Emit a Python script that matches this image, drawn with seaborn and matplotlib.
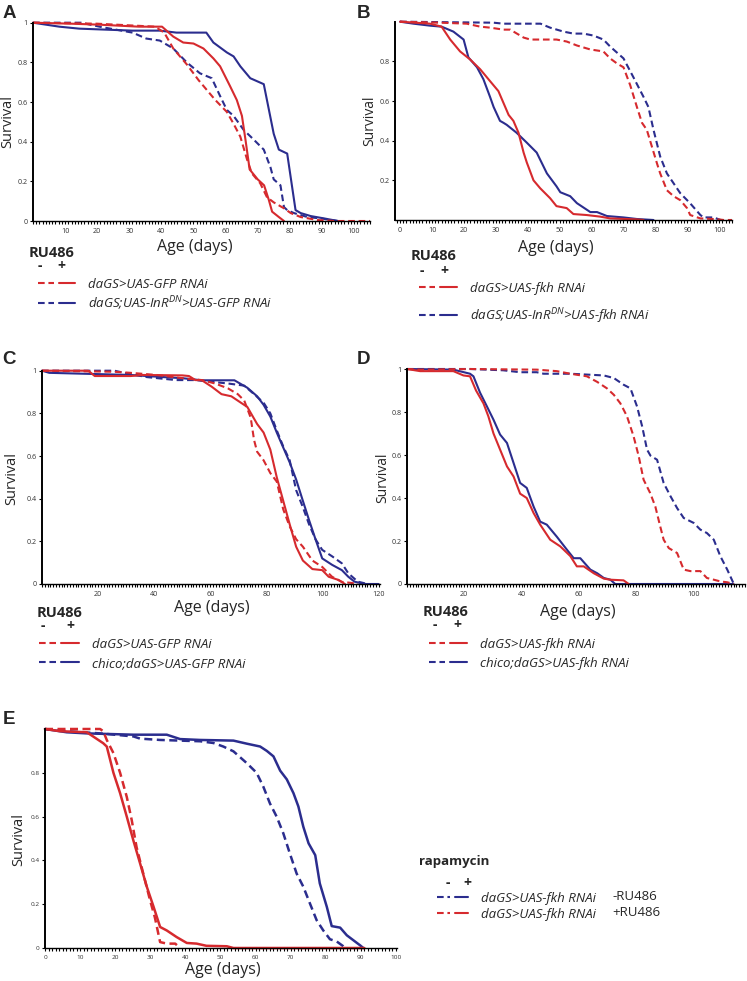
import matplotlib
matplotlib.use("Agg")
import matplotlib.pyplot as plt
import seaborn as sns
import numpy as np
from matplotlib.lines import Line2D
from matplotlib.legend_handler import HandlerTuple
from matplotlib.ticker import MultipleLocator

# ---------------- data (age in days, fraction surviving) ----------------
# Panel A
A_gfp_minus_day = [0, 20, 38, 40.9, 43.7, 47.9, 51.6, 56.8, 60.4, 62.5, 64.6, 66.7, 68.2, 70.8, 72.9, 75, 78.2, 80.3, 83.4, 88.6, 93.8, 105]
A_gfp_minus_surv = [1, 0.995, 0.98, 0.95, 0.87, 0.79, 0.71, 0.61, 0.55, 0.49, 0.425, 0.31, 0.24, 0.19, 0.12, 0.094, 0.064, 0.04, 0.02, 0.005, 0, 0]
A_gfp_plus_day = [0, 12, 20.7, 33, 40.2, 43.7, 46.8, 50, 53.1, 56.2, 58.3, 61.4, 63.5, 65.1, 66.2, 67.5, 70, 72, 73.5, 74.5, 76.6, 78.2]
A_gfp_plus_surv = [1, 0.995, 0.99, 0.98, 0.98, 0.93, 0.90, 0.895, 0.87, 0.82, 0.78, 0.68, 0.61, 0.53, 0.41, 0.26, 0.21, 0.18, 0.105, 0.047, 0.02, 0]
A_inr_minus_day = [0, 15, 20.7, 31, 35.3, 39.5, 43.7, 47.9, 52, 55.7, 58.3, 60.4, 62.5, 65.6, 68.8, 71.9, 74, 75, 77.1, 78.2, 79.2, 81.3, 85.5, 89.6, 92.8, 95]
A_inr_minus_surv = [1, 1, 0.98, 0.95, 0.92, 0.91, 0.87, 0.80, 0.745, 0.72, 0.63, 0.56, 0.53, 0.46, 0.41, 0.36, 0.27, 0.21, 0.18, 0.07, 0.055, 0.04, 0.02, 0.013, 0.005, 0]
A_inr_plus_day = [0, 8.2, 14.4, 31, 39.5, 44.7, 54, 56.2, 60.4, 62.5, 64.6, 67.7, 71.9, 75, 76.6, 79.2, 81.8, 83.4, 86.5, 90.7, 95]
A_inr_plus_surv = [1, 0.98, 0.97, 0.96, 0.96, 0.95, 0.95, 0.90, 0.85, 0.83, 0.78, 0.72, 0.69, 0.44, 0.36, 0.34, 0.055, 0.04, 0.025, 0.013, 0]

# Panel B
B_fkh_minus_day = [0, 12.8, 20.9, 25.1, 28.2, 32.4, 34.5, 38.7, 40.8, 49, 52.2, 55.4, 59.6, 63.7, 65.8, 67.9, 70, 72.1, 74.2, 75.8, 77.3, 78.9, 80.5, 81.5, 83.6, 85.7, 87.8, 89.9, 90.9, 94.1, 99.3, 101.4, 104]
B_fkh_minus_surv = [1, 0.995, 0.99, 0.975, 0.97, 0.96, 0.96, 0.92, 0.91, 0.91, 0.90, 0.88, 0.86, 0.85, 0.815, 0.79, 0.77, 0.68, 0.57, 0.49, 0.455, 0.37, 0.285, 0.235, 0.15, 0.12, 0.10, 0.06, 0.025, 0.008, 0.004, 0, 0]
B_fkh_plus_day = [0, 9.4, 13, 15.7, 18.8, 21.9, 25.1, 28.2, 30.8, 32.4, 34, 35.5, 37.1, 38.7, 39.7, 41.8, 43.9, 47, 49, 52.2, 54.3, 58.5, 62.7, 65.8, 74, 76.3]
B_fkh_plus_surv = [1, 0.99, 0.975, 0.91, 0.85, 0.81, 0.76, 0.70, 0.65, 0.59, 0.53, 0.50, 0.44, 0.34, 0.29, 0.20, 0.16, 0.11, 0.07, 0.06, 0.03, 0.025, 0.017, 0.008, 0.003, 0]
B_inr_minus_day = [0, 29.3, 32.4, 44, 47, 51.2, 54.3, 57.5, 60.6, 63.7, 65.8, 70, 73.1, 76.3, 77.8, 79.4, 81.5, 83.6, 85.7, 87.8, 90.9, 94.1, 95.1, 98.3, 100.4]
B_inr_minus_surv = [1, 0.995, 0.99, 0.99, 0.97, 0.95, 0.94, 0.94, 0.93, 0.91, 0.875, 0.815, 0.72, 0.62, 0.57, 0.455, 0.32, 0.235, 0.185, 0.135, 0.084, 0.025, 0.013, 0.013, 0]
B_inr_plus_day = [0, 4.2, 9.4, 13, 16.7, 19.9, 21.4, 24.1, 26.1, 28.2, 29.3, 31.3, 32.4, 33.4, 36.5, 39.7, 42.8, 46, 49, 50.2, 53.3, 55.4, 59.6, 61.7, 64.8, 70, 74.2, 79.4]
B_inr_plus_surv = [1, 0.99, 0.98, 0.975, 0.95, 0.91, 0.82, 0.77, 0.71, 0.62, 0.57, 0.50, 0.49, 0.48, 0.44, 0.39, 0.34, 0.235, 0.17, 0.14, 0.12, 0.085, 0.04, 0.04, 0.02, 0.013, 0.005, 0]

# Panel C
C_gfp_minus_day = [0, 25.8, 31.6, 40.8, 50, 57, 61.7, 66.3, 69.8, 72.1, 74.4, 75.6, 76.7, 79, 81.4, 83.7, 86, 88.3, 90.6, 93, 96.4, 99.9, 103.4, 106.9, 110.3, 112.6]
C_gfp_minus_surv = [1, 0.995, 0.99, 0.98, 0.965, 0.956, 0.94, 0.917, 0.89, 0.86, 0.78, 0.675, 0.62, 0.58, 0.52, 0.48, 0.35, 0.27, 0.21, 0.175, 0.11, 0.08, 0.034, 0.01, 0.005, 0]
C_gfp_plus_day = [0, 16.5, 18.8, 31.6, 36.2, 50, 52.4, 54.7, 57, 60.5, 64, 67.5, 70.9, 73.2, 76.7, 79, 81.4, 83.7, 86, 88.3, 90.6, 93, 96.4, 99.9, 102.2, 105.7, 108]
C_gfp_plus_surv = [1, 1, 0.975, 0.975, 0.98, 0.978, 0.975, 0.956, 0.955, 0.925, 0.89, 0.88, 0.85, 0.83, 0.75, 0.71, 0.63, 0.50, 0.39, 0.28, 0.175, 0.11, 0.07, 0.065, 0.034, 0.019, 0]
C_chico_minus_day = [0, 17.7, 25.8, 29.3, 37.4, 47.8, 54.7, 66.3, 72.1, 75.6, 79, 81.4, 83.7, 86, 88.3, 90.6, 93, 95.2, 97.5, 99.9, 103.4, 106.9, 109.2, 112.6, 116.1]
C_chico_minus_surv = [1, 1, 1, 0.99, 0.97, 0.956, 0.956, 0.94, 0.93, 0.89, 0.85, 0.80, 0.72, 0.645, 0.58, 0.44, 0.36, 0.28, 0.21, 0.16, 0.13, 0.097, 0.05, 0.011, 0]
C_chico_plus_day = [0, 2.6, 31.6, 43.2, 50, 57, 68.6, 73.2, 76.7, 79, 81.4, 83.7, 86, 88.3, 90.6, 93, 95.2, 97.5, 99.9, 103.4, 106.9, 109.2, 111.4, 114.9, 120]
C_chico_plus_surv = [1, 0.99, 0.98, 0.97, 0.965, 0.955, 0.955, 0.92, 0.88, 0.84, 0.785, 0.71, 0.64, 0.57, 0.49, 0.39, 0.30, 0.21, 0.12, 0.09, 0.065, 0.034, 0.011, 0, 0]

# Panel D
D_fkh_minus_day = [0, 4.6, 22, 45.3, 52.3, 57, 62.8, 66.4, 69.8, 72.2, 74.5, 76.8, 79.1, 80.9, 82.6, 84.9, 86.7, 88.4, 89.6, 91.4, 94.3, 96.6, 98.9, 102.4, 104.7, 107.1, 109.4, 111.8, 114.1]
D_fkh_minus_surv = [1, 0.997, 1, 0.997, 0.99, 0.978, 0.966, 0.94, 0.91, 0.88, 0.84, 0.78, 0.687, 0.594, 0.485, 0.423, 0.36, 0.268, 0.206, 0.167, 0.144, 0.067, 0.06, 0.06, 0.028, 0.02, 0.012, 0.008, 0]
D_fkh_plus_day = [0, 4.6, 16.2, 19.7, 22, 24.1, 26.7, 28.4, 30.2, 32.5, 34.9, 37.2, 39.5, 41.8, 44.2, 46.5, 50, 53.5, 57, 59.3, 61.7, 65.2, 68.7, 71, 75.6, 77.4]
D_fkh_plus_surv = [1, 0.99, 0.99, 0.97, 0.966, 0.90, 0.84, 0.78, 0.70, 0.625, 0.547, 0.50, 0.42, 0.40, 0.33, 0.276, 0.206, 0.175, 0.13, 0.082, 0.082, 0.05, 0.025, 0.02, 0.017, 0]
D_chico_minus_day = [0, 22, 33.6, 39.5, 45.3, 47.7, 57, 68.7, 72.2, 75.6, 78, 80.3, 82.1, 83.8, 85, 87.3, 89.6, 92, 94.3, 96.6, 100.1, 102.4, 104.7, 107.1, 109.4, 111.8, 114.1]
D_chico_minus_surv = [1, 1, 0.994, 0.985, 0.985, 0.978, 0.978, 0.97, 0.958, 0.927, 0.91, 0.826, 0.733, 0.625, 0.597, 0.578, 0.47, 0.408, 0.353, 0.307, 0.284, 0.253, 0.237, 0.206, 0.129, 0.067, 0]
D_chico_plus_day = [0, 16.2, 22, 23.2, 25.5, 27.9, 30.2, 32.5, 34.9, 37.2, 39.5, 41.8, 44.2, 46.5, 48.8, 52.3, 55.8, 58.2, 60.5, 64, 66.4, 68.7, 71, 72.7, 114]
D_chico_plus_surv = [1, 0.997, 0.978, 0.966, 0.89, 0.826, 0.764, 0.695, 0.656, 0.563, 0.47, 0.447, 0.36, 0.29, 0.276, 0.22, 0.16, 0.12, 0.12, 0.067, 0.05, 0.028, 0.02, 0, 0]

# Panel E
E_noRU_norap_day = [0, 6.2, 15.7, 25.2, 27.1, 32.8, 38.5, 44.2, 48, 50.8, 53.7, 57.5, 60.3, 62.2, 64.1, 66, 67.9, 69.8, 71.7, 73.6, 75.5, 77.4, 79.3, 81.2, 83.1, 85, 85.5]
E_noRU_norap_surv = [1, 0.99, 0.98, 0.966, 0.956, 0.95, 0.947, 0.944, 0.936, 0.92, 0.898, 0.844, 0.80, 0.737, 0.66, 0.60, 0.524, 0.43, 0.34, 0.28, 0.203, 0.127, 0.08, 0.04, 0.03, 0.008, 0]
E_noRU_rap_day = [0, 6.2, 11.9, 25.2, 34.7, 38.5, 44.2, 53.7, 57.5, 61.3, 63.2, 65.1, 67, 68.9, 70.8, 72.2, 73.6, 75.1, 77, 78.3, 80.3, 81.7, 84.1, 86, 87.9, 89.8, 90.7]
E_noRU_rap_surv = [1, 0.985, 0.98, 0.974, 0.974, 0.954, 0.95, 0.947, 0.933, 0.92, 0.90, 0.875, 0.81, 0.77, 0.707, 0.646, 0.554, 0.478, 0.424, 0.295, 0.188, 0.10, 0.093, 0.058, 0.035, 0.012, 0]
E_RU_norap_day = [0, 15.7, 16.6, 17.6, 19.5, 21.4, 23.3, 24.7, 26.1, 28, 29.9, 31.3, 32.8, 34.7, 37.1, 38.5]
E_RU_norap_surv = [1, 1, 0.99, 0.95, 0.89, 0.80, 0.69, 0.585, 0.46, 0.34, 0.22, 0.14, 0.027, 0.02, 0.02, 0]
E_RU_rap_day = [0, 4.3, 11.9, 13.8, 16.6, 17.6, 19.5, 21.4, 23.3, 25.2, 27.1, 29, 30.9, 32.8, 34.7, 37.5, 40.4, 43.2, 46, 51.8, 53.7, 91]
E_RU_rap_surv = [1, 0.99, 0.985, 0.965, 0.935, 0.92, 0.80, 0.707, 0.60, 0.49, 0.386, 0.28, 0.19, 0.096, 0.08, 0.05, 0.023, 0.02, 0.01, 0.008, 0, 0]

# Legend texts
A_labels = ["daGS>UAS-GFP RNAi", "daGS;UAS-InR$^{DN}$>UAS-GFP RNAi"]
B_labels = ["daGS>UAS-fkh RNAi", "daGS;UAS-InR$^{DN}$>UAS-fkh RNAi"]
C_labels = ["daGS>UAS-GFP RNAi", "chico;daGS>UAS-GFP RNAi"]
D_labels = ["daGS>UAS-fkh RNAi", "chico;daGS>UAS-fkh RNAi"]
E_labels = ["daGS>UAS-fkh RNAi", "daGS>UAS-fkh RNAi"]
E_suffix = ["-RU486", "+RU486"]

# ---------------- style ----------------
sns.set_theme(style="white")
plt.rcParams['font.family'] = ['Open Sans', 'DejaVu Sans']
plt.rcParams['mathtext.fontset'] = 'custom'
plt.rcParams['mathtext.rm'] = 'Open Sans'
plt.rcParams['mathtext.it'] = 'Open Sans:italic'

RED = '#d62a2e'
BLUE = '#2b2d8e'
TICKC = '#333333'
W, H = 747, 981
DASH = (0, (3.2, 1.8))

fig = plt.figure(figsize=(W / 100, H / 100), dpi=100)


def fx(px):
    return px / W


def fy(py):
    return 1 - py / H


def make_ax(left, right, top, bottom):
    return fig.add_axes([fx(left), fy(bottom), fx(right) - fx(left), (bottom - top) / H])


def style_ax(ax, xlim, xticks, yticks, tsize=5.2):
    ax.set_xlim(*xlim)
    ax.set_ylim(0, 1)
    sns.despine(ax=ax)
    ax.spines['left'].set_linewidth(1.4)
    ax.spines['left'].set_color('black')
    ax.spines['bottom'].set_linewidth(1.0)
    ax.spines['bottom'].set_color('black')
    ax.set_xticks(xticks)
    ax.set_xticklabels([str(t) for t in xticks])
    ax.set_yticks(yticks)
    ax.set_yticklabels(["0" if t == 0 else ("1" if t == 1 else f"{t:.1f}") for t in yticks])
    ax.xaxis.set_minor_locator(MultipleLocator(1))
    ax.tick_params(axis='x', which='major', direction='out', length=2.5, width=0.8,
                   color='black', labelsize=tsize, labelcolor=TICKC, pad=2.5, bottom=True)
    ax.tick_params(axis='x', which='minor', direction='out', length=1.8, width=0.8,
                   color='black', bottom=True)
    ax.tick_params(axis='y', which='major', direction='out', length=2, width=0.8,
                   color='black', labelsize=tsize, labelcolor=TICKC, pad=2, left=True)
    ax.grid(False)


def draw(ax, day, surv, color, dashed, lw=1.5):
    ls = DASH if dashed else '-'
    sns.lineplot(x=day, y=surv, ax=ax, color=color, linestyle=ls, linewidth=lw,
                 estimator=None, sort=False, clip_on=False, legend=False)


def labels(ax, left, right, top, bottom, ylab_xy, xlab_xy, ysize=10.5):
    w = right - left
    h = bottom - top
    ax.set_ylabel('Survival', fontsize=ysize, va='center', ha='center')
    ax.yaxis.set_label_coords((ylab_xy[0] - left) / w, (bottom - ylab_xy[1]) / h)
    ax.set_xlabel('Age (days)', fontsize=11.5, va='center', ha='center')
    ax.xaxis.set_label_coords((xlab_xy[0] - left) / w, (bottom - xlab_xy[1]) / h)


def letter(txt, x, y):
    fig.text(fx(x), fy(y), txt, fontsize=13.5, fontweight='bold',
             family='Liberation Sans', ha='center', va='center')


def legend(x_text, y_top, handle_px, rowgap, labs, color_pairs, header, header_xy, minus_x, plus_x, sign_y,
           fsize=9.5, header_bold_size=10.5, header_ha='center'):
    fs_px = fsize * 100 / 72
    handles = []
    for c in color_pairs:
        handles.append((Line2D([], [], color=c, lw=1.5, linestyle=DASH),
                        Line2D([], [], color=c, lw=1.5, linestyle='-')))
    textpad = 1.0
    hl = handle_px / fs_px
    leg = fig.legend(handles=handles, labels=labs, loc='upper left',
                     bbox_to_anchor=(fx(x_text - (handle_px + textpad * fs_px)), fy(y_top)),
                     frameon=False, borderpad=0, borderaxespad=0,
                     handlelength=hl, handletextpad=textpad, handleheight=0.7,
                     labelspacing=rowgap, prop={'family': 'Open Sans', 'style': 'italic', 'size': fsize},
                     handler_map={tuple: HandlerTuple(ndivide=None, pad=0.35)})
    fig.text(fx(header_xy[0]), fy(header_xy[1]), header, fontsize=header_bold_size,
             fontweight='bold', ha=header_ha, va='center')
    fig.text(fx(minus_x), fy(sign_y), '-', fontsize=10, fontweight='bold', ha='center', va='center')
    fig.text(fx(plus_x), fy(sign_y), '+', fontsize=10, fontweight='bold', ha='center', va='center')
    return leg


# ---------------- Panel A ----------------
axA = make_ax(33, 370, 22.7, 221)
draw(axA, A_inr_plus_day, A_inr_plus_surv, BLUE, False)
draw(axA, A_inr_minus_day, A_inr_minus_surv, BLUE, True)
draw(axA, A_gfp_plus_day, A_gfp_plus_surv, RED, False)
draw(axA, A_gfp_minus_day, A_gfp_minus_surv, RED, True)
style_ax(axA, (0, 105), list(range(10, 101, 10)), [0, 0.2, 0.4, 0.6, 0.8, 1.0])
labels(axA, 33, 370, 22.7, 221, (8, 122), (195, 247))
letter('A', 9, 14)
legend(88, 278, 37, 0.25, A_labels, [RED, BLUE], 'RU486', (52, 253), 40, 61, 266)

# ---------------- Panel B ----------------
axB = make_ax(395, 732, 21.7, 220)
draw(axB, B_inr_plus_day, B_inr_plus_surv, BLUE, False)
draw(axB, B_inr_minus_day, B_inr_minus_surv, BLUE, True)
draw(axB, B_fkh_plus_day, B_fkh_plus_surv, RED, False)
draw(axB, B_fkh_minus_day, B_fkh_minus_surv, RED, True)
style_ax(axB, (-1.6, 104), list(range(0, 101, 10)), [0.2, 0.4, 0.6, 0.8])
labels(axB, 395, 732, 21.7, 220, (370, 121), (556, 248), ysize=10)
letter('B', 363, 13)
legend(470, 282, 38, 0.85, B_labels, [RED, BLUE], 'RU486', (434, 256), 422, 444, 271)

# ---------------- Panel C ----------------
axC = make_ax(42, 380, 370.7, 584)
draw(axC, C_chico_plus_day, C_chico_plus_surv, BLUE, False)
draw(axC, C_chico_minus_day, C_chico_minus_surv, BLUE, True)
draw(axC, C_gfp_plus_day, C_gfp_plus_surv, RED, False)
draw(axC, C_gfp_minus_day, C_gfp_minus_surv, RED, True)
style_ax(axC, (0, 120.5), list(range(20, 121, 20)), [0, 0.2, 0.4, 0.6, 0.8, 1.0])
labels(axC, 42, 380, 370.7, 584, (12, 478), (212, 608))
letter('C', 9, 360)
legend(92, 638, 40, 0.45, C_labels, [RED, BLUE], 'RU486', (60, 613), 43, 70, 626)

# ---------------- Panel D ----------------
axD = make_ax(407, 745, 369, 584)
draw(axD, D_chico_plus_day, D_chico_plus_surv, BLUE, False)
draw(axD, D_chico_minus_day, D_chico_minus_surv, BLUE, True)
draw(axD, D_fkh_plus_day, D_fkh_plus_surv, RED, False)
draw(axD, D_fkh_minus_day, D_fkh_minus_surv, RED, True)
style_ax(axD, (0, 118), list(range(20, 101, 20)), [0, 0.2, 0.4, 0.6, 0.8, 1.0])
labels(axD, 407, 745, 369, 584, (383, 478), (578, 612), ysize=10)
letter('D', 363, 360)
legend(480, 638, 38, 0.45, D_labels, [RED, BLUE], 'RU486', (446, 612), 435, 457, 625)

# ---------------- Panel E ----------------
axE = make_ax(45, 397, 729, 948)
draw(axE, E_noRU_rap_day, E_noRU_rap_surv, BLUE, False, lw=1.8)
draw(axE, E_noRU_norap_day, E_noRU_norap_surv, BLUE, True, lw=1.8)
draw(axE, E_RU_rap_day, E_RU_rap_surv, RED, False, lw=1.8)
draw(axE, E_RU_norap_day, E_RU_norap_surv, RED, True, lw=1.8)
style_ax(axE, (0, 100.3), list(range(0, 101, 10)), [0, 0.2, 0.4, 0.6, 0.8], tsize=4.6)
labels(axE, 45, 397, 729, 948, (19, 840), (223, 970))
letter('E', 9, 720)
legend(481, 892, 31, 0.23, E_labels, [BLUE, RED], 'rapamycin', (419, 862), 448, 467, 883,
       fsize=9.5, header_bold_size=9.5, header_ha='left')
for lab, yy in zip(E_suffix, [897, 913]):
    fig.text(fx(612), fy(yy), lab, fontsize=9.5, ha='left', va='center')

fig.savefig('out.png', dpi=100)
